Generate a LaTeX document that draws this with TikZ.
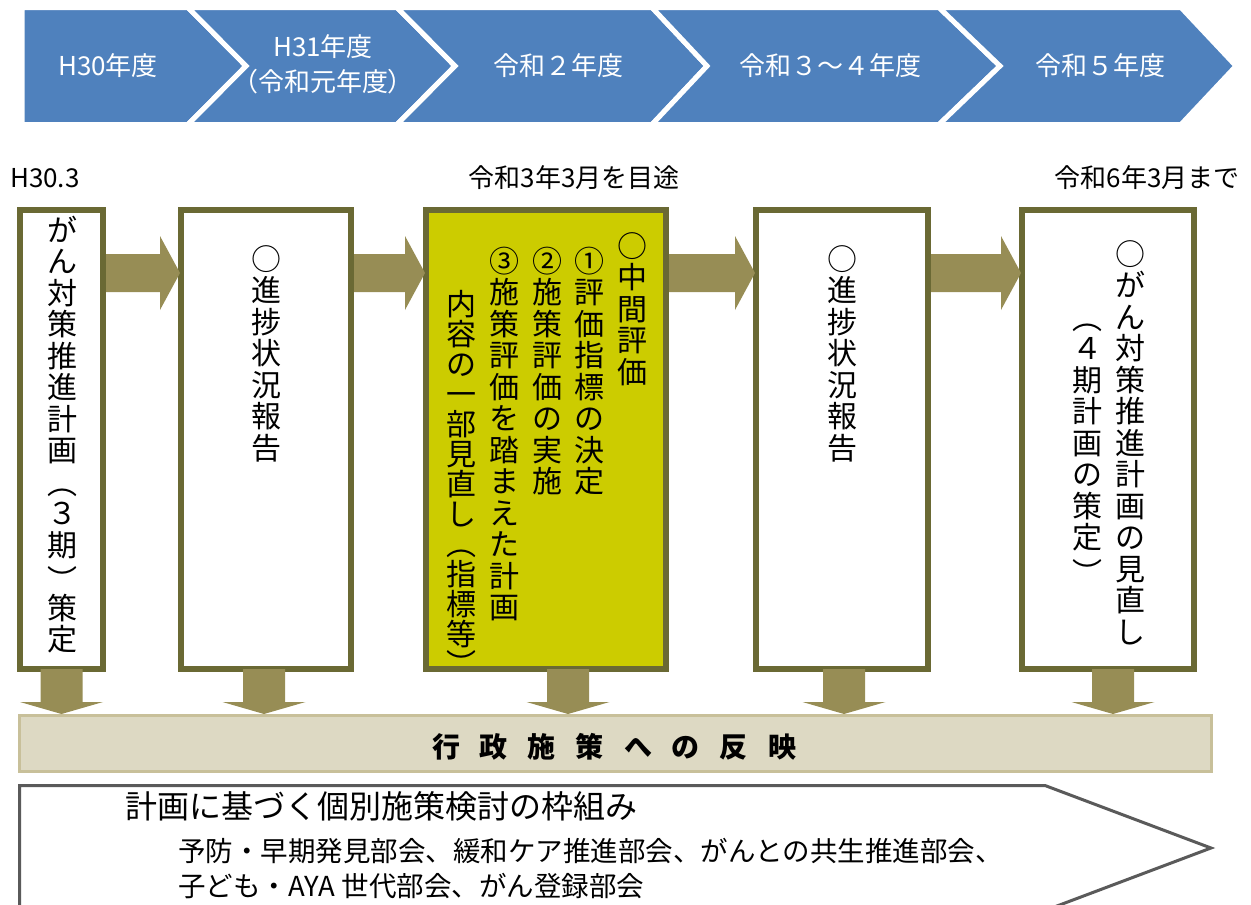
\documentclass[tikz,border=0pt]{standalone}
\usepackage{fontspec}
\setmainfont{Noto Sans CJK JP}
\usetikzlibrary{calc}
\definecolor{chevblue}{HTML}{4F81BD}
\definecolor{boxline}{HTML}{6A6934}
\definecolor{arrfillc}{HTML}{978D55}
\definecolor{bthreefill}{HTML}{CCCC00}
\definecolor{bandfill}{HTML}{DDD9C3}
\definecolor{bandline}{HTML}{C8C09A}
\definecolor{pentline}{HTML}{5A5A5A}
\newdimen\cellh \cellh=31.5pt
\newcommand\po{\vbox to\cellh{\vss\hbox to 1em{\hss ︵\hss}\kern1pt}}
\newcommand\pc{\vbox to\cellh{\kern6pt\hbox to 1em{\hss ︶\hss}\vss}}
\newcommand\pcs{\vbox to\cellh{\kern1pt\hbox to 1em{\hss ︶\hss}\vss}}
\ExplSyntaxOn
\cs_new_protected:Npn \vc_item:n #1
  {
    \token_if_cs:NTF #1
      { #1 }
      { \vbox_to_ht:nn { \cellh } { \vss \hbox_to_wd:nn { 1em } { \hss \vrule ~ height ~ .88em ~ depth ~ .12em ~ width ~ 0pt ~ #1 \hss } \vss } }
  }
\NewDocumentCommand \vcol { m }
  { \vbox { \offinterlineskip \tl_map_function:nN {#1} \vc_item:n } }
\ExplSyntaxOff
\newcommand\harr[2]{%
  \fill[arrfill] ([yshift=185.5pt]#1.east) -- ([xshift=-18pt,yshift=185.5pt]#2.west)
    -- ([xshift=-18pt,yshift=203.5pt]#2.west) -- ([xshift=2pt,yshift=166.5pt]#2.west)
    -- ([xshift=-18pt,yshift=129.5pt]#2.west) -- ([xshift=-18pt,yshift=147.5pt]#2.west)
    -- ([yshift=147.5pt]#1.east) -- cycle;}
\newcommand\varr[2]{%
  \path ([xshift=#2pt]#1.south) coordinate (va);
  \path (va |- band.north) coordinate (vb);
  \fill[arrfill] ([xshift=-21pt,yshift=3pt]va) -- ([xshift=-21pt,yshift=12pt]vb)
    -- ([xshift=-41.5pt,yshift=12pt]vb) -- (vb) -- ([xshift=41.5pt,yshift=12pt]vb)
    -- ([xshift=21pt,yshift=12pt]vb) -- ([xshift=21pt,yshift=3pt]va) -- cycle;}
\begin{document}
\begin{tikzpicture}[x=1pt,y=-1pt,
  chev/.style={fill=chevblue,draw=white,line width=5pt,line join=miter},
  chevtext/.style={text=white,inner sep=0,font=\fontsize{26}{30}\selectfont},
  box/.style={draw=boxline,line width=6pt,fill=white,inner sep=0,minimum height=459pt},
  arrfill/.style={fill=arrfillc},
  vt/.style={anchor=north,inner sep=0,font=\fontsize{30}{31.5}\selectfont},
  datetext/.style={inner sep=0,font=\fontsize{26}{30}\selectfont}]
\useasboundingbox (0,0) rectangle (1251,905);
\clip (0,0) rectangle (1251,905);
% chevrons
\filldraw[chev] (22,7.5) -- (188,7.5) -- (246,66) -- (188,124.5) -- (22,124.5) -- cycle;
\filldraw[chev] (188,7.5) -- (397,7.5) -- (455,66) -- (397,124.5) -- (188,124.5) -- (246,66) -- cycle;
\filldraw[chev] (397,7.5) -- (652,7.5) -- (707,66) -- (652,124.5) -- (397,124.5) -- (455,66) -- cycle;
\filldraw[chev] (652,7.5) -- (939,7.5) -- (1000,66) -- (939,124.5) -- (652,124.5) -- (707,66) -- cycle;
\filldraw[chev] (939,7.5) -- (1181,7.5) -- (1236,66) -- (1181,124.5) -- (939,124.5) -- (1000,66) -- cycle;
\node[chevtext] (y1) at (108,66) {H30年度};
\node[chevtext] (y2a) at (323,47) {H31年度};
\node[chevtext] (y2b) at (323,82) {\addfontfeatures{RawFeature=+palt}（令和元年度）};
\node[chevtext] (y3) at (558,66) {令和２年度};
\node[chevtext] (y4) at (830,66) {令和３～４年度};
\node[chevtext] (y5) at (1100,66) {令和５年度};
% dates
\node[datetext,anchor=west] (d1) at (10,178) {H30.3};
\node[datetext] (d2) at (574,178) {令和3年3月を目途};
\node[datetext,anchor=east] (d3) at (1240,178) {令和6年3月まで};
% boxes
\node[box,minimum width=83pt] (b1) at (61.5,439.5) {};
\node[box,minimum width=170pt] (b2) at (266,439.5) {};
\node[box,minimum width=240pt,fill=bthreefill] (b3) at (546,439.5) {};
\node[box,minimum width=172pt] (b4) at (842,439.5) {};
\node[box,minimum width=172pt] (b5) at (1108,439.5) {};
% band
\node[draw=bandline,fill=bandfill,line width=3pt,minimum width=1192pt,minimum height=56pt,inner sep=0] (band) at (615.5,743.5) {};
\node[inner sep=0,font=\bfseries\fontsize{28}{30}\selectfont] (bandtext) at (614,747)
  {行\hspace{20pt}政\hspace{20pt}施\hspace{20pt}策\hspace{20pt}へ\hspace{20pt}の\hspace{20pt}反\hspace{20pt}映};
% arrows
\harr{b1}{b2}
\harr{b2}{b3}
\harr{b3}{b4}
\harr{b4}{b5}
\varr{b1}{0}
\varr{b2}{-2}
\varr{b3}{22}
\varr{b4}{2}
\varr{b5}{5}
% vertical texts
\node[vt] (t1) at (62,214) {\vcol{がん対策推進計画\po ３期\pc 策定}};
\node[vt] (t2) at (266,243) {\vcol{○進捗状況報告}};
\node[vt] (t3a) at (632,230) {\vcol{○中間評価}};
\node[vt] (t3b) at (589,245) {\vcol{①評価指標の決定}};
\node[vt] (t3c) at (547,245) {\vcol{②施策評価の実施}};
\node[vt] (t3d) at (504,245) {\vcol{③施策評価を踏まえた計画}};
\node[vt] (t3e) at (461,289) {\cellh=30pt\vcol{内容の一部見直し\po 指標等\pcs}};
\node[vt] (t4) at (842,243) {\vcol{○進捗状況報告}};
\node[vt] (t5a) at (1130,238) {\vcol{○がん対策推進計画の見直し}};
\node[vt] (t5b) at (1087,301) {\vcol{\po ４期計画の策定\pc}};
% bottom pentagon
\draw[draw=pentline,fill=white,line width=3pt] (19.5,785.5) -- (1045,785.5) -- (1211,848) -- (1045,910.5) -- (19.5,910.5) -- cycle;
\node[anchor=west,inner sep=0,font=\fontsize{32}{34}\selectfont] (p1) at (125,806) {計画に基づく個別施策検討の枠組み};
\node[anchor=west,inner sep=0,font=\fontsize{27.5}{30}\selectfont] (p2) at (178,851) {予防・早期発見部会、緩和ケア推進部会、がんとの共生推進部会、};
\node[anchor=west,inner sep=0,font=\fontsize{27.5}{30}\selectfont] (p3) at (178,886) {子ども・AYA 世代部会、がん登録部会};
\end{tikzpicture}
\end{document}
